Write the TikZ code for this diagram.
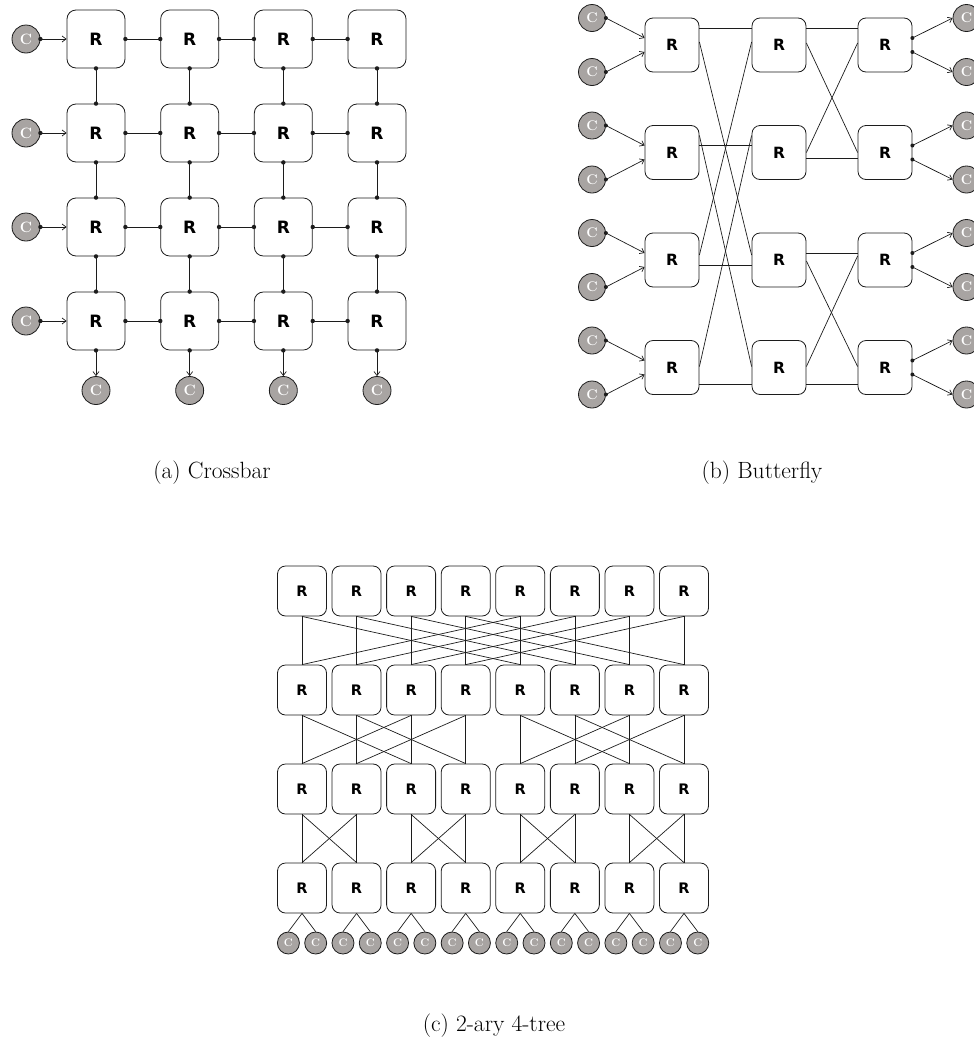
\documentclass[tikz,border=0pt]{standalone}
\usepackage{fontspec}
\newfontfamily\rfont{DejaVu Sans}
\usetikzlibrary{arrows.meta}
\definecolor{cgray}{RGB}{168,164,162}
\definecolor{lcol}{RGB}{28,28,28}
\newcommand\dlink[2]{\draw[link] (#1) -- (#2); \fill[lcol] (#1) circle (2.2pt) (#2) circle (2.2pt);}
\begin{document}
\begin{tikzpicture}[x=1pt,y=-1pt,
  box/.style={draw=lcol, line width=0.8pt, fill=white, inner sep=0pt},
  xr/.style={box, minimum width=58pt, minimum height=58pt, rounded corners=9pt, font=\rfont\bfseries\fontsize{17}{17}\selectfont},
  br/.style={box, minimum width=54pt, minimum height=54pt, rounded corners=8pt, font=\rfont\bfseries\fontsize{15.5}{15.5}\selectfont},
  tr/.style={box, minimum width=49pt, minimum height=50pt, rounded corners=8pt, font=\rfont\bfseries\fontsize{14.5}{14.5}\selectfont},
  cl/.style={circle, draw=lcol, line width=0.8pt, fill=cgray, text=white, inner sep=0pt},
  xc/.style={cl, minimum size=28pt, font=\bfseries\fontsize{15}{15}\selectfont},
  bc/.style={cl, minimum size=27pt, font=\bfseries\fontsize{14}{14}\selectfont},
  tc/.style={cl, minimum size=22pt, font=\bfseries\fontsize{11}{11}\selectfont},
  link/.style={draw=lcol, line width=0.7pt},
  arr/.style={link, -{Straight Barb[length=4pt,width=6pt]}},
  captext/.style={inner sep=0pt, font=\fontsize{23.5}{28}\selectfont}
]
\useasboundingbox (0,0) rectangle (974,1039);

% ---------------- (a) Crossbar ----------------
\foreach \r in {0,1,2,3}{
  \foreach \c in {0,1,2,3}{
    \node[xr] (x\r\c) at ({96+93.67*\c},{39+94*\r}) {R};
  }
  \node[xc] (xi\r) at (26,{39+94*\r}) {C};
}
\foreach \c in {0,1,2,3}{\node[xc] (xo\c) at ({96+93.67*\c},390.5) {C};}
\foreach \r in {0,1,2,3}{\foreach \c/\d in {0/1,1/2,2/3}{\dlink{x\r\c.east}{x\r\d.west}}}
\foreach \c in {0,1,2,3}{\foreach \r/\s in {0/1,1/2,2/3}{\dlink{x\r\c.south}{x\s\c.north}}}
\foreach \r in {0,1,2,3}{
  \draw[arr] (xi\r.east) -- (x\r0.west);
  \fill[lcol] (xi\r.east) circle (2.2pt);
}
\foreach \c in {0,1,2,3}{
  \draw[arr] (x3\c.south) -- (xo\c.north);
  \fill[lcol] (x3\c.south) circle (2.2pt);
}

% ---------------- (b) Butterfly ----------------
\foreach \s/\x in {1/672,2/779,3/885}{
  \foreach \r/\y in {0/45,1/152.5,2/260,3/367.5}{
    \node[br] (b\s\r) at (\x,\y) {R};
  }
}
\foreach \r/\y in {0/45,1/152.5,2/260,3/367.5}{
  \node[bc] (bla\r) at (592,{\y-27}) {C};
  \node[bc] (blb\r) at (592,{\y+27}) {C};
  \node[bc] (bra\r) at (966.5,{\y-27}) {C};
  \node[bc] (brb\r) at (966.5,{\y+27}) {C};
  \draw[arr] (bla\r.east) -- ([yshift=7pt]b1\r.west);
  \draw[arr] (blb\r.east) -- ([yshift=-7pt]b1\r.west);
  \fill[lcol] (bla\r.east) circle (2pt) (blb\r.east) circle (2pt);
  \draw[arr] ([yshift=7pt]b3\r.east) -- (bra\r.west);
  \draw[arr] ([yshift=-7pt]b3\r.east) -- (brb\r.west);
  \fill[lcol] ([yshift=7pt]b3\r.east) circle (2pt) ([yshift=-7pt]b3\r.east) circle (2pt);
}
\foreach \a/\b/\p/\q in {0/0/17/17,1/1/7/7,2/2/-5/-5,3/3/-17/-17,0/2/3/5,1/3/17/1,2/0/5/3,3/1/1/17}{
  \draw[link] ([yshift=\p pt]b1\a.east) -- ([yshift=\q pt]b2\b.west);
}
\foreach \a/\b/\p/\q in {0/0/17/17,1/1/-6/-6,2/2/7/7,3/3/-17/-17,0/1/2/0,1/0/0/2,2/3/-1/1,3/2/1/4}{
  \draw[link] ([yshift=\p pt]b2\a.east) -- ([yshift=\q pt]b3\b.west);
}

% ---------------- (c) 2-ary 4-tree ----------------
\foreach \l in {0,1,2,3}{
  \foreach \c in {0,...,7}{
    \node[tr] (t\l\c) at ({302+54.57*\c},{591+99*\l}) {R};
  }
}
\foreach \k in {0,...,15}{\node[tc] (tc\k) at ({288.4+27.29*\k},943) {C};}
\foreach \c/\d in {0/4,1/5,2/6,3/7,4/0,5/1,6/2,7/3}{
  \draw[link] (t0\c.south) -- (t1\c.north);
  \draw[link] (t0\c.south) -- (t1\d.north);
}
\foreach \c/\d in {0/2,1/3,2/0,3/1,4/6,5/7,6/4,7/5}{
  \draw[link] (t1\c.south) -- (t2\c.north);
  \draw[link] (t1\c.south) -- (t2\d.north);
}
\foreach \c/\d in {0/1,1/0,2/3,3/2,4/5,5/4,6/7,7/6}{
  \draw[link] (t2\c.south) -- (t3\c.north);
  \draw[link] (t2\c.south) -- (t3\d.north);
}
\foreach \c [evaluate=\c as \a using int(2*\c), evaluate=\c as \b using int(2*\c+1)] in {0,...,7}{
  \draw[link] (t3\c.south) -- (tc\a.north);
  \draw[link] (t3\c.south) -- (tc\b.north);
}

% ---------------- captions ----------------
\node[captext] (capa) at (212,473) {(a) Crossbar};
\node[captext] (capb) at (762,473) {(b) Butterfly};
\node[captext] (capc) at (494,1026) {(c) 2-ary 4-tree};
\end{tikzpicture}
\end{document}
